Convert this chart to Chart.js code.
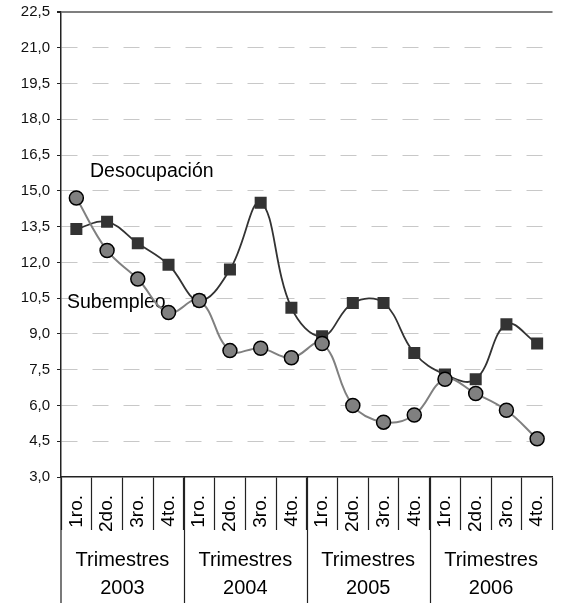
<!DOCTYPE html>
<html lang="es">
  <head>
    <meta charset="UTF-8" />
    <title>Desocupación y Subempleo</title>
    <script src="https://cdn.jsdelivr.net/npm/chart.js"></script>
    <style>
      html,
      body {
        margin: 0;
        padding: 0;
        background: #fff;
        overflow: hidden;
      }
      .wrap {
        position: relative;
        width: 561px;
        height: 603px;
      }
    </style>
  </head>
  <body>
    <div class="wrap">
      <canvas id="myChart"></canvas>
    </div>

    <script>
      "use strict";
      const quarters = [
        "1ro.", "2do.", "3ro.", "4to.",
        "1ro.", "2do.", "3ro.", "4to.",
        "1ro.", "2do.", "3ro.", "4to.",
        "1ro.", "2do.", "3ro.", "4to.",
      ];
      const years = ["2003", "2004", "2005", "2006"];
      const groupTitle = "Trimestres";
      const desocupacion = [13.4, 13.7, 12.8, 11.9, 10.4, 11.7, 14.5, 10.1, 8.9, 10.3, 10.3, 8.2, 7.3, 7.1, 9.4, 8.6];
      const subempleo = [14.7, 12.5, 11.3, 9.9, 10.4, 8.3, 8.4, 8.0, 8.6, 6.0, 5.3, 5.6, 7.1, 6.5, 5.8, 4.6];
      const yMin = 3;
      const yMax = 22.5;
      const yStep = 1.5;

      const FONT = "'Liberation Sans', Arial, sans-serif";

      // labels, group names and separators that the axes can't do alone
      const extras = {
        id: "extras",
        beforeDatasetsDraw(chart) {
          const { ctx, chartArea } = chart;
          const y = chart.scales.y;
          ctx.save();
          ctx.fillStyle = "#000";
          ctx.font = "19.5px " + FONT;
          ctx.textBaseline = "middle";
          ctx.textAlign = "left";
          ctx.fillText("Desocupación", chartArea.left + 29, y.getPixelForValue(15.8));
          ctx.fillText("Subempleo", chartArea.left + 6, y.getPixelForValue(10.3));
          ctx.restore();
        },
        afterDraw(chart) {
          const { ctx, chartArea } = chart;
          const x = chart.scales.x;
          const bottom = chart.height;
          ctx.save();
          ctx.strokeStyle = "#222";
          ctx.lineWidth = 1.2;
          ctx.beginPath();
          ctx.moveTo(chartArea.left, chartArea.bottom);
          ctx.lineTo(chartArea.left, bottom);
          for (let g = 1; g < years.length; g++) {
            const xs = (x.getPixelForValue(g * 4 - 1) + x.getPixelForValue(g * 4)) / 2;
            ctx.moveTo(Math.round(xs) + 0.5, chartArea.bottom);
            ctx.lineTo(Math.round(xs) + 0.5, bottom);
          }
          ctx.stroke();

          ctx.fillStyle = "#000";
          ctx.font = "20px " + FONT;
          ctx.textAlign = "center";
          ctx.textBaseline = "middle";
          years.forEach((yr, g) => {
            const cx = (x.getPixelForValue(g * 4) + x.getPixelForValue(g * 4 + 3)) / 2;
            ctx.fillText(groupTitle, cx, chartArea.bottom + 83);
            ctx.fillText(yr, cx, chartArea.bottom + 111);
          });
          ctx.restore();
        },
      };

      const ctx = document.getElementById("myChart").getContext("2d");

      new Chart(ctx, {
        type: "line",
        data: {
          labels: quarters,
          datasets: [
            {
              label: "Subempleo",
              data: subempleo,
              borderColor: "#808080",
              borderWidth: 2,
              backgroundColor: "#808080",
              pointStyle: "circle",
              pointRadius: 7,
              pointBorderColor: "#000",
              pointBorderWidth: 1.5,
              pointBackgroundColor: "#808080",
              tension: 0.4,
              order: 0,
            },
            {
              label: "Desocupación",
              data: desocupacion,
              borderColor: "#333",
              borderWidth: 1.8,
              backgroundColor: "#333",
              pointStyle: "rect",
              pointRadius: 8.5,
              pointBorderColor: "#333",
              pointBorderWidth: 0,
              pointBackgroundColor: "#333",
              tension: 0.4,
              order: 1,
            },
          ],
        },
        options: {
          responsive: true,
          maintainAspectRatio: false,
          animation: false,
          events: [],
          layout: {
            padding: { top: 12, right: 0, left: 0, bottom: 0 },
          },
          scales: {
            x: {
              offset: true,
              afterFit: (scale) => {
                scale.height = 126;
              },
              ticks: {
                autoSkip: false,
                minRotation: 90,
                maxRotation: 90,
                padding: -35,
                color: "#000",
                font: { family: FONT, size: 19 },
              },
              grid: {
                offset: true,
                drawOnChartArea: false,
                drawTicks: true,
                tickLength: 53,
                tickColor: "#222",
                tickWidth: 1.2,
              },
              border: {
                display: true,
                color: "#222",
                width: 1.5,
              },
            },
            y: {
              min: yMin,
              max: yMax,
              afterFit: (scale) => {
                scale.width = 61;
                scale.paddingTop = 0;
                scale.paddingBottom = 0;
              },
              ticks: {
                stepSize: yStep,
                padding: 7,
                color: "#111",
                font: { family: FONT, size: 15, lineHeight: 1 },
                callback: (v) => v.toFixed(1).replace(".", ","),
              },
              grid: {
                color: (c) => {
                  if (!c.tick) return "#c8c8c8";
                  if (c.tick.value === yMax) return "#7f7f7f";
                  if (c.tick.value === yMin) return "rgba(0,0,0,0)";
                  return "#c8c8c8";
                },
                lineWidth: (c) => (c.tick && c.tick.value === yMax ? 2 : 1),
                tickColor: "#222",
                tickLength: 4,
              },
              border: {
                display: true,
                color: "#222",
                width: 1.5,
                dash: (c) => (c.tick && c.tick.value === yMax ? [] : [16, 15]),
              },
            },
          },
          plugins: {
            legend: { display: false },
            tooltip: { enabled: false },
          },
        },
        plugins: [extras],
      });
    </script>
  </body>
</html>
